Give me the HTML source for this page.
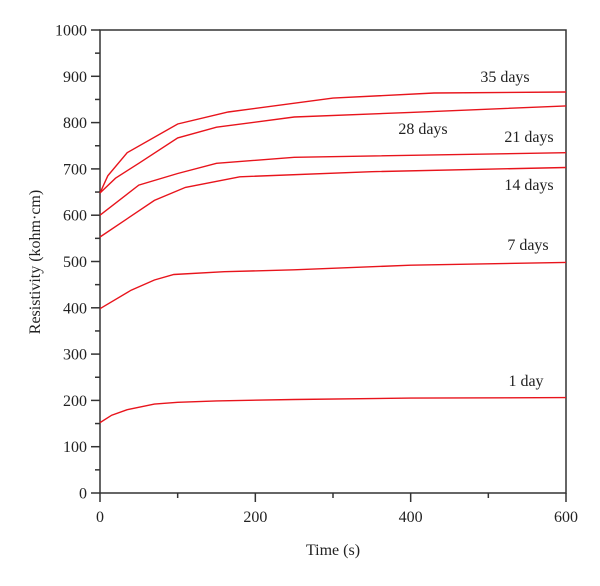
<!DOCTYPE html>
<html><head><meta charset="utf-8"><style>
body{margin:0;background:#fff}
svg text{font-family:"Liberation Serif",serif;fill:#222}
</style></head><body>
<svg id="chart" width="600" height="581" xmlns="http://www.w3.org/2000/svg"></svg>
<script>
const xTicks=[0,200,400,600];
const yTicks=[0,100,200,300,400,500,600,700,800,900,1000];
const seriesNames=["1 day","7 days","14 days","21 days","28 days","35 days"];
const t1=[0,15,35,70,100,150,250,400,600];
const v1=[152,168,180,192,196,199,202,205,206];
const t7=[0,40,70,95,160,250,400,600];
const v7=[398,438,460,472,478,482,492,498];
const t14=[0,70,110,180,350,600];
const v14=[553,632,660,683,694,703];
const t21=[0,50,100,150,250,600];
const v21=[600,665,690,712,725,735];
const t28=[0,20,50,100,150,250,400,600];
const v28=[648,680,712,767,790,812,822,836];
const t35=[0,10,35,100,165,300,430,600];
const v35=[648,685,735,797,823,853,864,866];
const labelPos=[[526,386],[528,250],[529,190],[529,142],[423,134],[505,82]];

const svg=document.getElementById('chart');
const NS="http://www.w3.org/2000/svg";
const X0=100,X1=566,Y0=493,Y1=30;
const sx=t=>X0+(t/600)*(X1-X0);
const sy=v=>Y0-(v/1000)*(Y0-Y1);
function mk(tag,attrs){const e=document.createElementNS(NS,tag);for(const k in attrs)e.setAttribute(k,attrs[k]);svg.appendChild(e);return e;}

const frame=mk('rect',{x:X0,y:Y1,width:X1-X0,height:Y0-Y1,fill:'none',stroke:'#333','stroke-width':1.5});



for(let v=0;v<=1000;v+=50){
  const major=v%100===0;
  const tk=mk('line',{x1:X0-(major?9:5),x2:X0,y1:sy(v),y2:sy(v),stroke:'#333','stroke-width':1.5});
  
  
}
yTicks.forEach(v=>{
  const t=mk('text',{x:X0-13,y:sy(v)+5.5,'text-anchor':'end','font-size':16});
  t.textContent=v;
  
  
});
for(let v=0;v<=600;v+=100){
  const major=v%200===0;
  const tk=mk('line',{x1:sx(v),x2:sx(v),y1:Y0,y2:Y0+(major?9:5),stroke:'#333','stroke-width':1.5});
  
  
}
xTicks.forEach(v=>{
  const t=mk('text',{x:sx(v),y:Y0+29,'text-anchor':'middle','font-size':16});
  t.textContent=v;
  
  
});
const xt=mk('text',{x:333,y:555,'text-anchor':'middle','font-size':16});
xt.textContent='Time (s)';


const yt=mk('text',{x:0,y:0,'text-anchor':'middle','font-size':16,transform:'translate(40,262) rotate(-90)'});
yt.textContent='Resistivity (kohm\u00b7cm)';



const ts=[t1,t7,t14,t21,t28,t35], vs=[v1,v7,v14,v21,v28,v35];
ts.forEach((tt,i)=>{
  const d=tt.map((t,j)=>(j?'L':'M')+sx(t).toFixed(1)+','+sy(vs[i][j]).toFixed(1)).join(' ');
  const p=mk('path',{d:d,fill:'none',stroke:'#e8141c','stroke-width':1.4});
  
  
  const l=mk('text',{x:labelPos[i][0],y:labelPos[i][1],'text-anchor':'middle','font-size':16});
  l.textContent=seriesNames[i];
  
  
});
</script>
</body></html>
